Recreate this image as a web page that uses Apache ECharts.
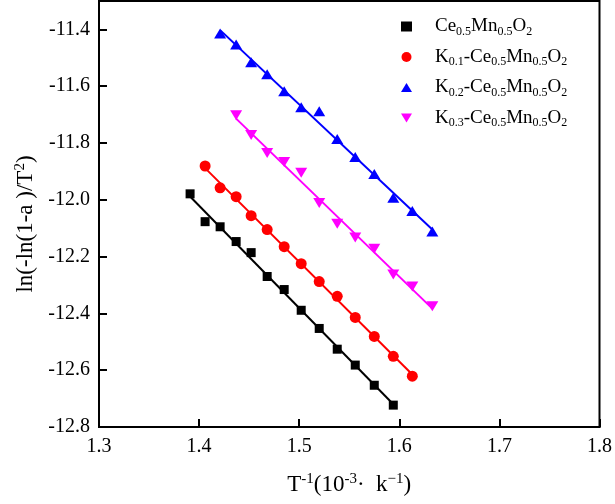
<!DOCTYPE html>
<html><head><meta charset="utf-8">
<script src="https://cdn.jsdelivr.net/npm/echarts@6/dist/echarts.min.js"></script>
<style>html,body{margin:0;padding:0;background:#fff}#c{width:615px;height:504px}</style>
</head><body><div id="c"></div>
<script>
const seriesNames = ['Ce0.5Mn0.5O2', 'K0.1-Ce0.5Mn0.5O2', 'K0.2-Ce0.5Mn0.5O2', 'K0.3-Ce0.5Mn0.5O2'];
const legendLabels = [
  '{n|Ce}{sub|0.5}{n|Mn}{sub|0.5}{n|O}{sub|2}',
  '{n|K}{sub|0.1}{n|-Ce}{sub|0.5}{n|Mn}{sub|0.5}{n|O}{sub|2}',
  '{n|K}{sub|0.2}{n|-Ce}{sub|0.5}{n|Mn}{sub|0.5}{n|O}{sub|2}',
  '{n|K}{sub|0.3}{n|-Ce}{sub|0.5}{n|Mn}{sub|0.5}{n|O}{sub|2}'
];
const ceX = [1.391,1.406,1.421,1.437,1.452,1.468,1.485,1.502,1.520,1.538,1.556,1.575,1.594];
const ceY = [-11.979,-12.077,-12.095,-12.147,-12.186,-12.270,-12.316,-12.389,-12.453,-12.526,-12.582,-12.653,-12.723];
const k1X = [1.406,1.421,1.437,1.452,1.468,1.485,1.502,1.520,1.538,1.556,1.575,1.594,1.613];
const k1Y = [-11.881,-11.958,-11.989,-12.056,-12.105,-12.165,-12.225,-12.288,-12.340,-12.414,-12.481,-12.551,-12.621];
const k2X = [1.421,1.437,1.452,1.468,1.485,1.502,1.520,1.538,1.556,1.575,1.594,1.613,1.633];
const k2Y = [-11.414,-11.453,-11.516,-11.558,-11.618,-11.674,-11.688,-11.786,-11.849,-11.909,-11.993,-12.039,-12.112];
const k3X = [1.437,1.452,1.468,1.485,1.502,1.520,1.538,1.556,1.575,1.594,1.613,1.633];
const k3Y = [-11.702,-11.772,-11.835,-11.867,-11.905,-12.011,-12.084,-12.133,-12.172,-12.263,-12.305,-12.375];
const xTicks = {min: 1.3, max: 1.8, interval: 0.1};
const yTicks = {min: -12.8, max: -11.3, interval: 0.2};

const colors = ['#000000', '#ff0000', '#0000ff', '#ff00ff'];
const symbols = ['rect', 'circle', 'path://M0,10 L12,10 L6,0 Z', 'path://M0,0 L12,0 L6,10 Z'];
const symSizes = [9, 11, [12, 10], [12, 10]];
const FONT = 'Liberation Serif';

function fit(xs, ys) {
  const n = xs.length;
  let sx = 0, sy = 0, sxx = 0, sxy = 0;
  for (let i = 0; i < n; i++) { sx += xs[i]; sy += ys[i]; sxx += xs[i]*xs[i]; sxy += xs[i]*ys[i]; }
  const b = (n*sxy - sx*sy) / (n*sxx - sx*sx);
  const a = (sy - b*sx) / n;
  return [[xs[0], a + b*xs[0]], [xs[n-1], a + b*xs[n-1]]];
}
const pairs = (xs, ys) => xs.map((x, i) => [x, ys[i]]);
const allX = [ceX, k1X, k2X, k3X];
const allY = [ceY, k1Y, k2Y, k3Y];

const series = [];
for (let i = 0; i < 4; i++) {
  series.push({
    name: seriesNames[i] + '_fit', type: 'line', data: fit(allX[i], allY[i]),
    showSymbol: false, symbol: 'none', lineStyle: {color: colors[i], width: 2},
    silent: true, z: 2
  });
}
for (let i = 0; i < 4; i++) {
  series.push({
    name: seriesNames[i], type: 'scatter', data: pairs(allX[i], allY[i]),
    symbol: symbols[i], symbolSize: symSizes[i],
    itemStyle: {color: colors[i], opacity: 1}, z: 3
  });
}

const nameRich = {
  n: {fontFamily: FONT, fontSize: 23, lineHeight: 26, color: '#000'},
  sup: {fontFamily: FONT, fontSize: 15, lineHeight: 12, verticalAlign: 'top', color: '#000'}
};
const tickRich = {t: {fontFamily: FONT, fontSize: 20, color: '#000'}};

const chart = echarts.init(document.getElementById('c'), null, {renderer: 'canvas'});
chart.setOption({
  animation: false,
  backgroundColor: '#fff',
  textStyle: {fontFamily: FONT},
  grid: {left: 99, right: 14, top: 1, bottom: 77, show: true, borderColor: '#000', borderWidth: 2},
  legend: {
    orient: 'vertical', left: 396, top: 12, itemGap: 10, itemWidth: 11, itemHeight: 10,
    data: seriesNames.map((n, i) => ({name: n, icon: symbols[i]})),
    formatter: name => legendLabels[seriesNames.indexOf(name)],
    textStyle: {
      fontFamily: FONT, color: '#000', padding: [0, 0, 0, 18],
      rich: {
        n: {fontFamily: FONT, fontSize: 19, lineHeight: 22, color: '#000'},
        sub: {fontFamily: FONT, fontSize: 12, lineHeight: 8, verticalAlign: 'bottom', color: '#000'}
      }
    }
  },
  xAxis: {
    type: 'value', min: xTicks.min, max: xTicks.max, interval: xTicks.interval,
    name: '{n|T}{sup|-1}{n|(10}{sup|-3}{n|·  k}{sup|−1}{n|)}',
    nameLocation: 'middle', nameGap: 45,
    nameTextStyle: {fontFamily: FONT, color: '#000', rich: nameRich},
    axisLine: {onZero: false, lineStyle: {color: '#000', width: 2}},
    axisTick: {inside: true, length: 8, lineStyle: {color: '#000', width: 2}},
    splitLine: {show: false},
    axisLabel: {fontFamily: FONT, fontSize: 20, color: '#000', margin: 10, rich: tickRich,
      formatter: v => '{t|' + v.toFixed(1) + '}'}
  },
  yAxis: {
    type: 'value', min: yTicks.min, max: yTicks.max, interval: yTicks.interval,
    name: '{n|ln(-ln(1-a )/T}{sup|2}{n|)}',
    nameLocation: 'middle', nameGap: 56, nameRotate: 90,
    nameTextStyle: {fontFamily: FONT, color: '#000', padding: [0, 20, 0, 0], rich: nameRich},
    axisLine: {onZero: false, lineStyle: {color: '#000', width: 2}},
    axisTick: {inside: true, length: 8, lineStyle: {color: '#000', width: 2}},
    splitLine: {show: false},
    axisLabel: {fontFamily: FONT, fontSize: 20, color: '#000', margin: 9, showMaxLabel: false, rich: tickRich,
      formatter: v => '{t|' + v.toFixed(1) + '}'}
  },
  series: series
});
</script></body></html>
